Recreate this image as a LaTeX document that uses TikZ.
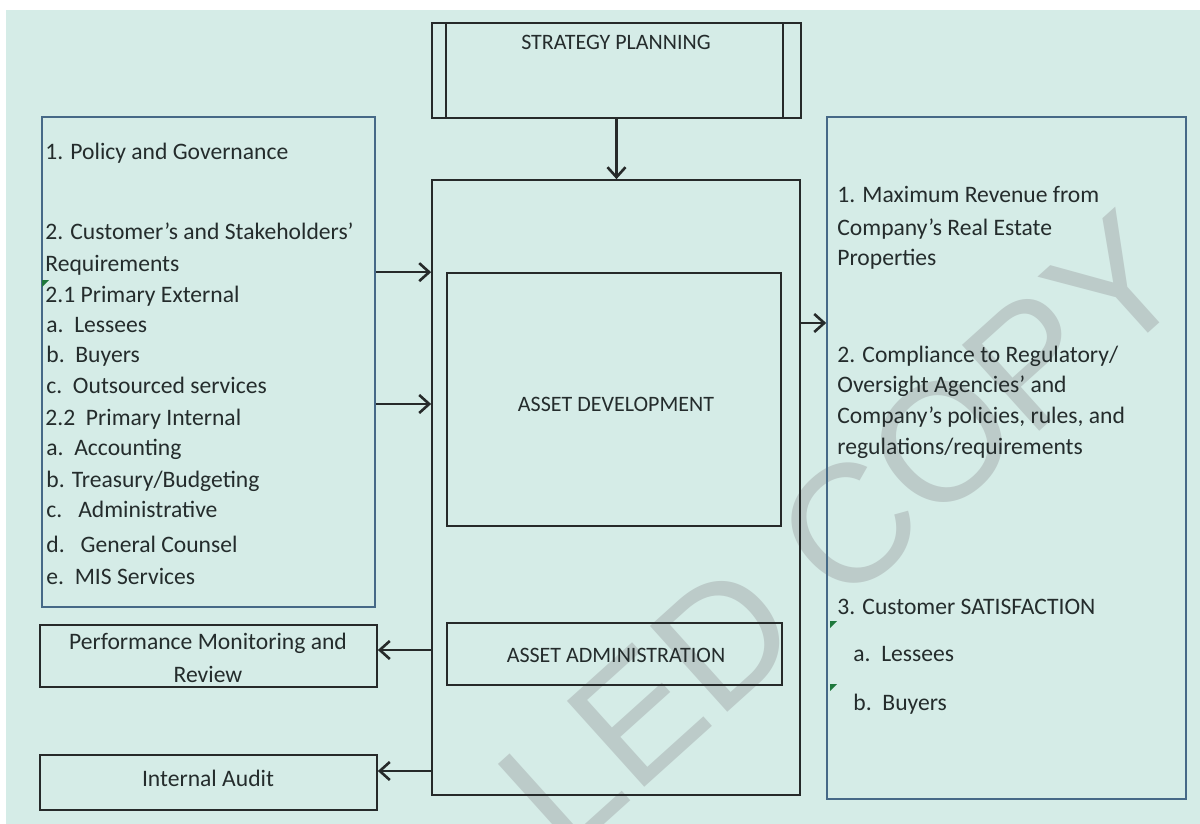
\documentclass[tikz,border=0pt]{standalone}
\usepackage{fontspec}
\setmainfont{Carlito}
\newfontfamily\wmfont{Liberation Sans}
\usetikzlibrary{arrows.meta,fit}
\definecolor{mint}{RGB}{213,236,231}
\definecolor{ink}{RGB}{36,44,44}
\definecolor{blueline}{RGB}{70,105,135}
\definecolor{darkline}{RGB}{38,42,42}
\definecolor{wm}{RGB}{188,203,201}
\definecolor{mark}{RGB}{30,120,60}
\begin{document}
\begin{tikzpicture}[x=0.5pt,y=-0.5pt,
  box/.style={draw=darkline, line width=0.85pt, inner sep=0pt},
  bbox/.style={draw=blueline, line width=0.8pt, inner sep=0pt},
  captxt/.style={font=\fontsize{11}{16.5}\selectfont, text=ink, inner sep=0pt},
  txt/.style={font=\fontsize{11.8}{16.5}\selectfont, text=ink, inner sep=0pt},
  arr/.style={draw=darkline, line width=1.3pt, -{Straight Barb[length=5pt,width=9pt]}},
  marker/.style={fill=mark}
]
\useasboundingbox (0,0) rectangle (1200,824);
\fill[white] (0,0) rectangle (1200,824);
\fill[mint] (6,10) rectangle (1200,824);

% watermark
\begin{scope}
  \clip (6,10) rectangle (1200,824);
  \node[rotate=42, text=wm, font=\wmfont\fontsize{84}{84}\selectfont, inner sep=0pt] (wmk) at (842,532) {LED COPY};
\end{scope}

% strategy planning
\node[box, fit={(432,23)(801,118)}] (sp) {};
\draw[darkline, line width=0.85pt] ([xshift=7.5pt]sp.north west) -- ([xshift=7.5pt]sp.south west);
\draw[darkline, line width=0.85pt] ([xshift=-9.5pt]sp.north east) -- ([xshift=-9.5pt]sp.south east);
\node[captxt] (spt) at (616,42) {STRATEGY PLANNING};

% main column
\node[box, fit={(432,180)(800,795)}] (main) {};
\node[box, fit={(447,273)(781,526)}] (ad) {};
\node[captxt] (adt) at (616,404) {ASSET DEVELOPMENT};
\node[box, fit={(447,623)(782,685)}] (aa) {};
\node[captxt] (aat) at (616,655) {ASSET ADMINISTRATION};

% left side
\node[bbox, fit={(42,117)(375,607)}] (lb) {};
\node[box, fit={(40,625)(377,687)}] (pm) {};
\node[txt, align=center] (pmt) at (208,658) {Performance Monitoring and\\Review};
\node[box, fit={(40,755)(377,810)}] (ia) {};
\node[txt] (iat) at (208,778) {Internal Audit};

% right side
\node[bbox, fit={(827,117)(1186,799)}] (rb) {};

% left text
\foreach \xx/\yy/\s [count=\i] in {
  45/160/{1. Policy and Governance},
  45/240/{2. Customer's and Stakeholders'},
  45/271/{Requirements},
  45/302/{2.1 Primary External},
  46/332/{a.\ \ Lessees},
  46/362/{b.\ \ Buyers},
  46/393/{c.\ \ Outsourced services},
  45/425/{2.2\ \ Primary Internal},
  46/455/{a.\ \ Accounting},
  46/487/{b. Treasury/Budgeting},
  46/517/{c.\ \ \ Administrative},
  46/552/{d.\ \ \ General Counsel},
  46/584/{e.\ \ MIS Services}}
  \node[txt, anchor=base west] (L\i) at (\xx,\yy) {\s};

% right text
\foreach \xx/\yy/\s [count=\i] in {
  837/203/{1. Maximum Revenue from},
  837/235/{Company's Real Estate},
  837/265/{Properties},
  837/362/{2. Compliance to Regulatory/},
  837/392/{Oversight Agencies' and},
  837/423/{Company's policies, rules, and},
  837/454/{regulations/requirements},
  837/614/{3. Customer SATISFACTION},
  853/661/{a.\ \ Lessees},
  853/710/{b.\ \ Buyers}}
  \node[txt, anchor=base west] (R\i) at (\xx,\yy) {\s};

% small green markers
\fill[marker] (42,280) -- (49,280) -- (42,287) -- cycle;
\fill[marker] (830,621) -- (837,621) -- (830,628) -- cycle;
\fill[marker] (830,684) -- (837,684) -- (830,691) -- cycle;

% connectors
\coordinate (yr) at (0,323);
\coordinate (yp) at (0,650);
\coordinate (yi) at (0,771);
\draw[arr] (sp.south) -- (sp.south |- main.north);
\draw[arr] (lb.east |- ad.north) -- (main.west |- ad.north);
\draw[arr] (lb.east |- adt.center) -- (main.west |- adt.center);
\draw[arr] (main.east |- yr) -- (rb.west |- yr);
\draw[arr] (main.west |- yp) -- (pm.east |- yp);
\draw[arr] (main.west |- yi) -- (ia.east |- yi);
\end{tikzpicture}
\end{document}
